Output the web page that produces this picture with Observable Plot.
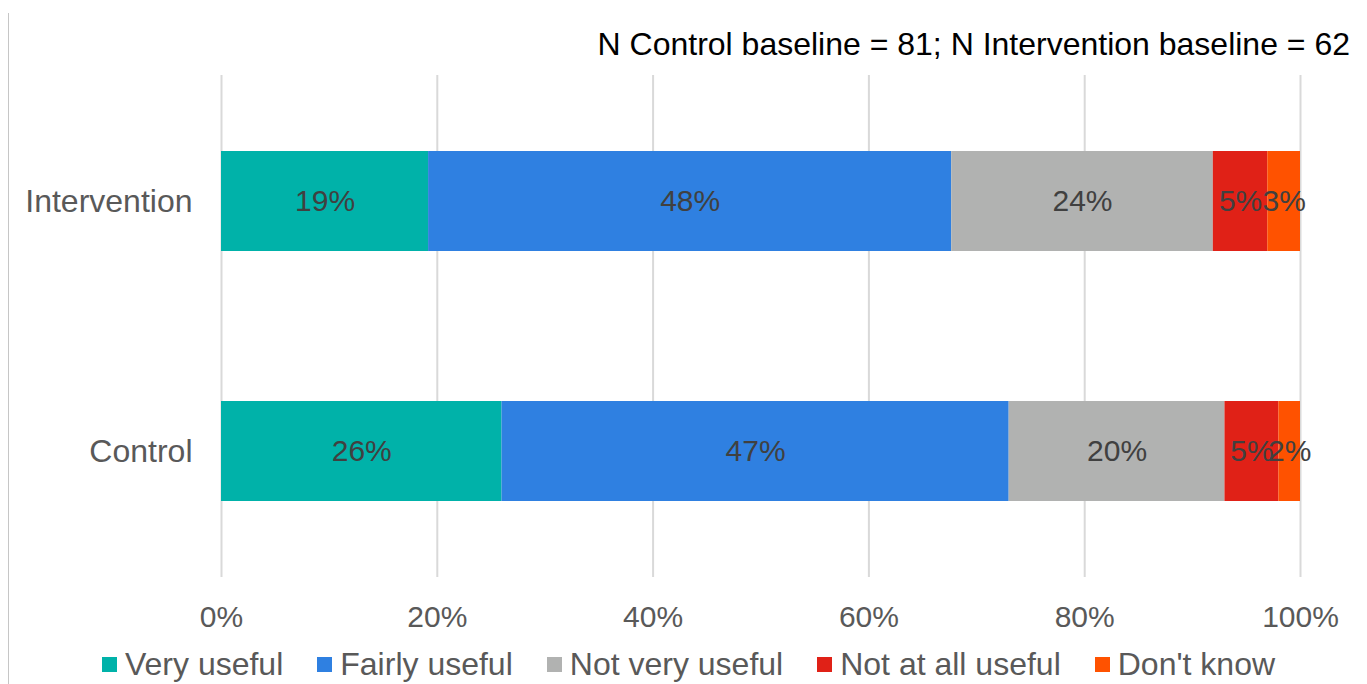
<!DOCTYPE html>
<html>
<head>
<meta charset="utf-8">
<script src="https://cdn.jsdelivr.net/npm/d3@7"></script>
<script src="https://cdn.jsdelivr.net/npm/@observablehq/plot@0.6"></script>
<style>
  html, body { margin: 0; padding: 0; background: #fff; }
  #wrap { position: relative; width: 1367px; height: 684px; overflow: hidden; font-family: "Liberation Sans", Arial, sans-serif; }
  #edge { position: absolute; left: 8px; top: 13px; width: 1px; height: 671px; background: #c6c6c6; }
  #title { position: absolute; right: 17px; top: 26px; font-size: 32px; line-height: 37px; color: #000; white-space: nowrap; }
  #chart { position: absolute; left: 0; top: 0; }
  #legend { position: absolute; left: 0; width: 1367px; top: 646px; display: flex; justify-content: center; align-items: center; font-size: 32px; line-height: 37px; color: #595959; padding-left: 10px; box-sizing: border-box; }
  #legend .item { display: flex; align-items: center; margin: 0 17px; white-space: nowrap; }
  #legend .sw { width: 15px; height: 15px; margin-right: 8px; }
</style>
</head>
<body>
<div id="wrap">
  <div id="edge"></div>
  <div id="title"></div>
  <div id="chart"></div>
  <div id="legend"></div>
</div>
<script>
// Survey groups (top to bottom) and response categories (stack order)
const groups = ["Intervention", "Control"];
const categories = ["Very useful", "Fairly useful", "Not very useful", "Not at all useful", "Don't know"];
// Percentage of respondents per category
const intervention = [19, 48, 24, 5, 3];
const control = [26, 47, 20, 5, 2];
const palette = ["#00b2a9", "#2f80e1", "#b1b2b1", "#e02117", "#ff5200"];
const xTicks = [0, 0.2, 0.4, 0.6, 0.8, 1];
const titleText = "N Control baseline = 81; N Intervention baseline = 62";

const rows = [];
categories.forEach((c, i) => {
  rows.push({group: "Intervention", category: c, value: intervention[i]});
  rows.push({group: "Control", category: c, value: control[i]});
});

// each group's bar spans the full 0–100% width
const stackOpts = {x: "value", y: "group", z: "category", offset: "normalize"};

const chart = Plot.plot({
  width: 1367,
  height: 684,
  marginLeft: 221,
  marginRight: 67,
  marginTop: 75,
  marginBottom: 107,
  style: {fontFamily: "'Liberation Sans', Arial, sans-serif", fontSize: "30px", color: "#595959", background: "transparent"},
  x: {domain: [0, 1], ticks: xTicks, tickFormat: d3.format(".0%"), tickSize: 0, tickPadding: 28, label: null},
  y: {domain: groups, paddingInner: 0.6016, paddingOuter: 0.301, tickSize: 0, tickPadding: 29, label: null},
  color: {domain: categories, range: palette},
  marks: [
    Plot.gridX(xTicks, {stroke: "#d9d9d9", strokeOpacity: 1, strokeWidth: 2}),
    Plot.barX(rows, Plot.stackX({...stackOpts, fill: "category"})),
    Plot.text(rows, Plot.stackX({...stackOpts, text: d => d.value + "%", fill: "#404040", fontSize: 30})),
    Plot.axisX({ticks: xTicks, tickFormat: d3.format(".0%"), tickSize: 0, tickPadding: 28, fontSize: 30, label: null}),
    Plot.axisY({tickSize: 0, tickPadding: 29, fontSize: 32, label: null})
  ]
});
document.getElementById("chart").appendChild(chart);
document.getElementById("title").textContent = titleText;

const legend = document.getElementById("legend");
categories.forEach((c, i) => {
  const item = document.createElement("div");
  item.className = "item";
  const sw = document.createElement("span");
  sw.className = "sw";
  sw.style.background = palette[i];
  const label = document.createElement("span");
  label.textContent = c;
  item.appendChild(sw);
  item.appendChild(label);
  legend.appendChild(item);
});
</script>
</body>
</html>
